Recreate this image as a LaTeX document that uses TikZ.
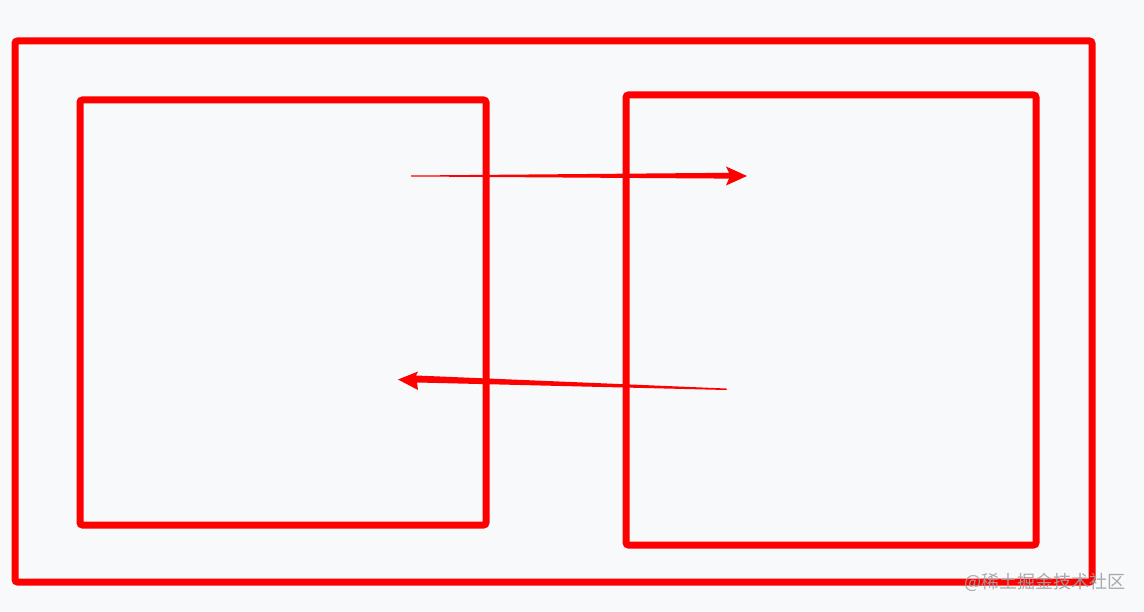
\documentclass[tikz,border=0pt]{standalone}
\usepackage{fontspec}
\usetikzlibrary{calc}
\newfontfamily\cjk{Noto Sans CJK SC}
\definecolor{bg}{RGB}{248,249,251}
\definecolor{rd}{RGB}{255,0,0}
\definecolor{wm}{RGB}{160,160,163}
\begin{document}
\begin{tikzpicture}[x=1pt,y=-1pt,
  frame/.style={draw=rd,line width=7pt,rounded corners=2.5pt},
  tarrow/.style={fill=rd,draw=none}]
\useasboundingbox (0,0) rectangle (1144,612);
\fill[bg] (0,0) rectangle (1144,612);
\draw[frame] (15,41) rectangle (1092,582);
\draw[frame] (80,100) rectangle (486,525);
\draw[frame] (626,95) rectangle (1036,545);
% top arrow (tapered)
\coordinate (t1) at (411,176);
\coordinate (t2) at (747,176);
\fill[tarrow] (t1) -- ++(0,-0.5) -- (729,172.8) -- (726,166.5) -- (t2) -- (726,185.5) -- (729,178.6) -- ($(t1)+(0,0.5)$) -- cycle;
% bottom arrow (tapered)
\coordinate (b1) at (727,389.5);
\coordinate (b2) at (398,379.5);
\fill[tarrow] (b1) -- (726,388.5) -- (416,375.5) -- (418,371.5) -- (b2) -- (418,390) -- (417,382.5) -- (726,390) -- cycle;
\node[font=\cjk\fontsize{18}{18}\selectfont,text=wm,opacity=0.9,anchor=center] (wm) at (1045,582) {@稀土掘金技术社区};
\end{tikzpicture}
\end{document}
